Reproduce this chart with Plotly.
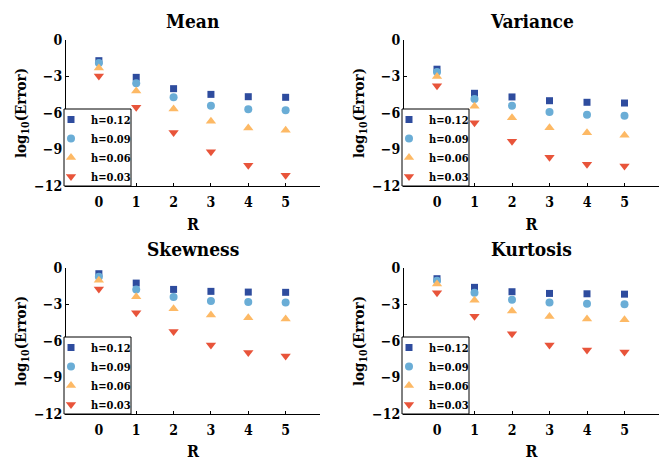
import plotly.graph_objects as go

R = [0, 1, 2, 3, 4, 5]
h_labels = ["h=0.12", "h=0.09", "h=0.06", "h=0.03"]

mean_err = [
    [-1.7, -3.07, -4.0, -4.47, -4.66, -4.71],
    [-1.9, -3.56, -4.71, -5.4, -5.7, -5.78],
    [-2.3, -4.2, -5.67, -6.68, -7.23, -7.42],
    [-2.96, -5.53, -7.6, -9.18, -10.3, -11.12],
]
variance_err = [
    [-2.4, -4.38, -4.68, -4.99, -5.12, -5.18],
    [-2.62, -4.85, -5.4, -5.92, -6.14, -6.23],
    [-3.0, -5.45, -6.39, -7.22, -7.63, -7.82],
    [-3.75, -6.8, -8.32, -9.64, -10.22, -10.36],
]
skewness_err = [
    [-0.47, -1.24, -1.76, -1.92, -1.98, -2.0],
    [-0.71, -1.76, -2.39, -2.72, -2.8, -2.83],
    [-1.0, -2.36, -3.35, -3.87, -4.09, -4.2],
    [-1.73, -3.68, -5.22, -6.32, -6.95, -7.23],
]
kurtosis_err = [
    [-0.88, -1.59, -1.95, -2.09, -2.12, -2.15],
    [-1.04, -2.03, -2.61, -2.83, -2.94, -2.97],
    [-1.32, -2.66, -3.54, -3.98, -4.2, -4.26],
    [-2.03, -3.96, -5.41, -6.32, -6.73, -6.9],
]
titles = ["Mean", "Variance", "Skewness", "Kurtosis"]
panels = [mean_err, variance_err, skewness_err, kurtosis_err]
yticks = [0, -3, -6, -9, -12]

colors = ["#2E4C9E", "#6AADD6", "#FDB965", "#E8543A"]
symbols = ["square", "circle", "triangle-up", "triangle-down"]
sizes = [7, 8, 9, 9]

# the page body has an 8px margin; size the figure so it fits the 672x461 window
OFF = 8
W, H = 672 - OFF, 461 - OFF
FONT = "DejaVu Serif Condensed, DejaVu Serif"


def fx(p):
    return (p - OFF) / W


def fy(p):
    return 1 - (p - OFF) / H


xdom = [[fx(66), fx(320)], [fx(404), fx(659)]]
ydom = [[fy(186), fy(40)], [fy(414), fy(268)]]
title_y = [fy(21), fy(249)]
# legend frame (page px): left, right per column; top per row
box_x = [[64, 131], [402, 469]]
box_top = [109, 337]
legend_top = [105, 333]

fig = go.Figure()
layout = dict(
    width=W, height=H,
    margin=dict(l=0, r=0, t=0, b=0),
    paper_bgcolor="white", plot_bgcolor="white",
    font=dict(family=FONT, size=14, color="black", weight="bold"),
    annotations=[], shapes=[],
)

for i, (ttl, data) in enumerate(zip(titles, panels)):
    row, col = divmod(i, 2)
    sfx = "" if i == 0 else str(i + 1)
    xa, ya = "x" + sfx, "y" + sfx
    lg = "legend" + sfx
    for k in range(4):
        fig.add_trace(go.Scatter(
            x=R, y=data[k], mode="markers", name=h_labels[k],
            marker=dict(symbol=symbols[k], size=sizes[k], color=colors[k], line=dict(width=0)),
            xaxis=xa, yaxis=ya, legend=lg, showlegend=True,
        ))
    layout["xaxis" + sfx] = dict(
        domain=xdom[col], anchor=ya, range=[-0.88, 5.92],
        tickvals=R, ticks="inside", ticklen=3, tickcolor="black",
        showline=True, linecolor="black", linewidth=1,
        showgrid=False, zeroline=False, automargin=False,
        ticklabelstandoff=3,
        tickfont=dict(size=14, family=FONT, weight="bold"),
        title=dict(text="R", font=dict(size=16, family=FONT, weight="bold"), standoff=10),
    )
    layout["yaxis" + sfx] = dict(
        domain=ydom[row], anchor=xa, range=[-12, 0],
        tickvals=yticks, ticks="inside", ticklen=3, tickcolor="black",
        showline=True, linecolor="black", linewidth=1,
        showgrid=False, zeroline=False, automargin=False,
        tickfont=dict(size=14, family=FONT, weight="bold"),
        title=dict(text="log<sub>10</sub>(Error)", font=dict(size=15, family=FONT, weight="bold"), standoff=3),
    )
    layout[lg] = dict(
        x=fx(box_x[col][0] + 2), xanchor="left",
        y=fy(legend_top[row]), yanchor="top",
        bgcolor="rgba(0,0,0,0)", borderwidth=0,
        font=dict(size=11, family=FONT, weight="bold"),
        indentation=-15, itemwidth=30, tracegroupgap=0,
    )
    layout["shapes"].append(dict(
        type="rect", xref="paper", yref="paper", layer="above",
        x0=fx(box_x[col][0]), x1=fx(box_x[col][1]),
        y0=ydom[row][0], y1=fy(box_top[row]),
        line=dict(color="black", width=1), fillcolor="white",
    ))
    layout["annotations"].append(dict(
        text=ttl, xref="paper", yref="paper",
        x=(xdom[col][0] + xdom[col][1]) / 2, y=title_y[row],
        xanchor="center", yanchor="middle", showarrow=False,
        font=dict(size=19, family=FONT, weight="bold"),
    ))

fig.update_layout(**layout)
fig.write_html("out.html")
